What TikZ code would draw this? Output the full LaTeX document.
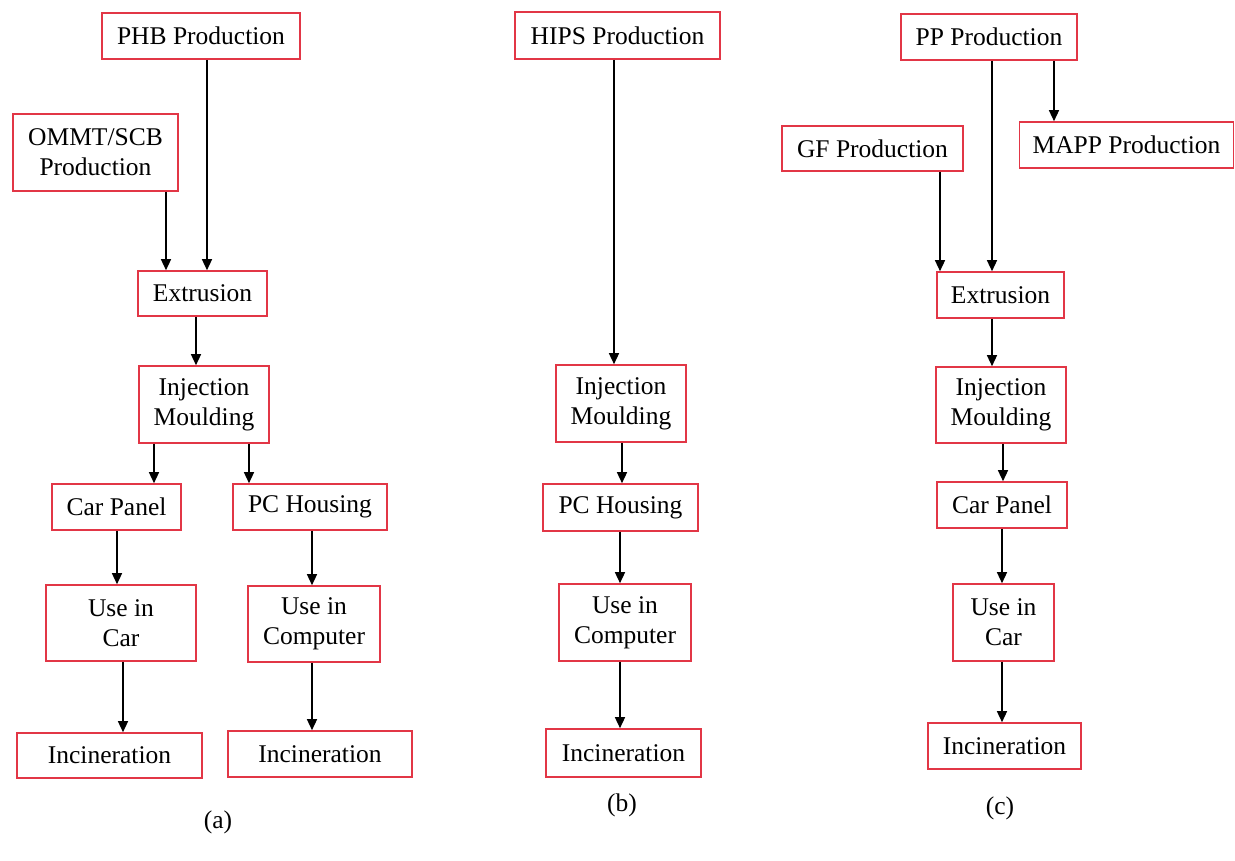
\documentclass[tikz,border=0pt]{standalone}
\usepackage{fontspec}
\setmainfont{Liberation Serif}
\usetikzlibrary{arrows.meta}
\definecolor{boxred}{RGB}{226,54,70}
\begin{document}
\begin{tikzpicture}[x=1pt,y=-1pt,
  box/.style={draw=boxred, line width=1.6pt, fill=white, inner sep=0pt, align=center,
    font=\fontsize{25.5pt}{30pt}\selectfont},
  arr/.style={draw=black, line width=1.4pt, -{Triangle[length=11pt,width=10pt]}},
  lbl/.style={font=\fontsize{25.5pt}{30pt}\selectfont}]
\useasboundingbox (0,0) rectangle (1235,861);
\fill[white] (0,0) rectangle (1235,861);

% ---------- (a) ----------
\node[box, minimum width=198pt, minimum height=46pt] (phb) at (201,36) {PHB Production};
\node[box, minimum width=165pt, minimum height=77pt] (ommt) at (95.5,152.5) {OMMT/SCB\\Production};
\node[box, minimum width=129pt, minimum height=45pt] (extA) at (202.5,293.5) {Extrusion};
\node[box, minimum width=130pt, minimum height=77pt] (imA) at (204,404.5) {Injection\\Moulding};
\node[box, minimum width=129pt, minimum height=46pt] (cpA) at (116.5,507) {Car Panel};
\node[box, minimum width=154pt, minimum height=46pt] (pchA) at (310,507) {PC Housing};
\node[box, minimum width=150pt, minimum height=76pt] (ucarA) at (121,623) {Use in\\Car};
\node[box, minimum width=132pt, minimum height=76pt] (ucompA) at (314,624) {Use in\\Computer};
\node[box, minimum width=185pt, minimum height=45pt] (incA1) at (109.5,755.5) {Incineration};
\node[box, minimum width=184pt, minimum height=46pt] (incA2) at (320,754) {Incineration};

\coordinate (xa1) at (166,0);
\coordinate (xa2) at (207,0);
\coordinate (xa3) at (196,0);
\coordinate (xa4) at (154,0);
\coordinate (xa5) at (249,0);
\coordinate (xa6) at (117,0);
\coordinate (xa7) at (312,0);
\coordinate (xa8) at (123,0);

\draw[arr] (ommt.south -| xa1) -- (extA.north -| xa1);
\draw[arr] (phb.south -| xa2) -- (extA.north -| xa2);
\draw[arr] (extA.south -| xa3) -- (imA.north -| xa3);
\draw[arr] (imA.south -| xa4) -- (cpA.north -| xa4);
\draw[arr] (imA.south -| xa5) -- (pchA.north -| xa5);
\draw[arr] (cpA.south -| xa6) -- (ucarA.north -| xa6);
\draw[arr] (pchA.south -| xa7) -- (ucompA.north -| xa7);
\draw[arr] (ucarA.south -| xa8) -- (incA1.north -| xa8);
\draw[arr] (ucompA.south -| xa7) -- (incA2.north -| xa7);

\node[lbl] (la) at (218,822) {(a)};

% ---------- (b) ----------
\node[box, minimum width=205pt, minimum height=47pt] (hips) at (617.5,35.5) {HIPS Production};
\node[box, minimum width=130pt, minimum height=77pt] (imB) at (621,403.5) {Injection\\Moulding};
\node[box, minimum width=155pt, minimum height=47pt] (pchB) at (620.5,507.5) {PC Housing};
\node[box, minimum width=132pt, minimum height=77pt] (ucompB) at (625,622.5) {Use in\\Computer};
\node[box, minimum width=155pt, minimum height=48pt] (incB) at (623.5,753) {Incineration};

\coordinate (xb1) at (614,0);
\coordinate (xb2) at (622,0);
\coordinate (xb3) at (620,0);

\draw[arr] (hips.south -| xb1) -- (imB.north -| xb1);
\draw[arr] (imB.south -| xb2) -- (pchB.north -| xb2);
\draw[arr] (pchB.south -| xb3) -- (ucompB.north -| xb3);
\draw[arr] (ucompB.south -| xb3) -- (incB.north -| xb3);

\node[lbl] (lb) at (622,805) {(b)};

% ---------- (c) ----------
\node[box, minimum width=176pt, minimum height=46pt] (pp) at (989,37) {PP Production};
\node[box, minimum width=181pt, minimum height=45pt] (gf) at (872.5,148.5) {GF Production};
\node[box, minimum width=214pt, minimum height=46pt] (mapp) at (1126.5,145) {MAPP Production};
\node[box, minimum width=127pt, minimum height=46pt] (extC) at (1000.5,295) {Extrusion};
\node[box, minimum width=130pt, minimum height=76pt] (imC) at (1001,405) {Injection\\Moulding};
\node[box, minimum width=130pt, minimum height=46pt] (cpC) at (1002,505) {Car Panel};
\node[box, minimum width=101pt, minimum height=77pt] (ucarC) at (1003.5,622.5) {Use in\\Car};
\node[box, minimum width=153pt, minimum height=46pt] (incC) at (1004.5,746) {Incineration};

\coordinate (xc1) at (1054,0);
\coordinate (xc2) at (992,0);
\coordinate (xc3) at (940,0);
\coordinate (xc4) at (1003,0);
\coordinate (xc5) at (1002,0);

\draw[arr] (pp.south -| xc1) -- (mapp.north -| xc1);
\draw[arr] (pp.south -| xc2) -- (extC.north -| xc2);
\draw[arr] (gf.south -| xc3) -- (extC.north -| xc3);
\draw[arr] (extC.south -| xc2) -- (imC.north -| xc2);
\draw[arr] (imC.south -| xc4) -- (cpC.north -| xc4);
\draw[arr] (cpC.south -| xc5) -- (ucarC.north -| xc5);
\draw[arr] (ucarC.south -| xc5) -- (incC.north -| xc5);

\node[lbl] (lc) at (1000,808) {(c)};
\end{tikzpicture}
\end{document}
